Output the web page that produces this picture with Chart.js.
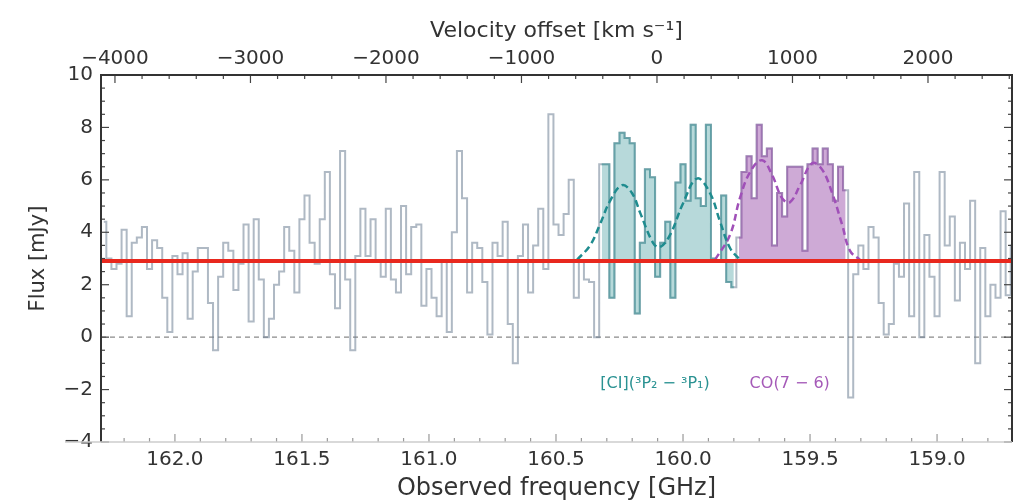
<!DOCTYPE html>
<html>
<head>
<meta charset="utf-8">
<script src="https://cdn.jsdelivr.net/npm/chart.js@4.4.1/dist/chart.umd.min.js"></script>
<style>
  html, body { margin: 0; padding: 0; background: #fff; }
  #wrap { width: 1015px; height: 503px; }
</style>
</head>
<body>
<div id="wrap"><canvas id="spec"></canvas></div>
<script>
// spectrum: channel grid (GHz) and flux per channel (mJy)
var chanStart = 162.28;
var chanWidth = 0.02;
var flux = [
  4.4, 3.0, 2.6, 2.8, 4.1, 0.8, 3.6, 3.8, 4.2, 2.6,
  3.7, 3.4, 1.5, 0.2, 3.1, 2.4, 3.2, 0.7, 2.5, 3.4,
  3.4, 1.3, -0.5, 2.3, 3.6, 3.3, 1.8, 2.8, 4.3, 0.6,
  4.5, 2.2, 0.0, 0.7, 2.0, 2.5, 4.2, 3.3, 1.7, 4.5,
  5.4, 3.6, 2.8, 4.5, 6.3, 2.4, 1.1, 7.1, 2.2, -0.5,
  3.1, 4.9, 3.1, 4.5, 2.9, 2.3, 4.9, 2.2, 1.7, 5.0,
  2.4, 4.2, 4.3, 1.2, 2.6, 1.5, 0.8, 2.9, 0.2, 4.0,
  7.1, 5.3, 1.7, 3.6, 3.4, 2.1, 0.1, 3.6, 3.1, 4.4,
  0.5, -1.0, 3.1, 4.3, 1.7, 3.5, 4.9, 2.6, 8.5, 4.3,
  3.9, 4.7, 6.0, 1.5, 2.9, 2.2, 2.1, 0.0, 6.6, 6.6,
  1.5, 7.4, 7.8, 7.6, 7.4, 0.9, 3.6, 6.4, 6.1, 2.3,
  3.6, 4.4, 1.5, 5.9, 6.6, 5.2, 8.1, 5.3, 5.0, 8.1,
  3.0, 2.9, 5.4, 2.1, 1.9, 3.8, 6.3, 6.9, 5.3, 8.1,
  6.9, 7.2, 3.5, 5.5, 4.6, 6.5, 6.5, 6.5, 3.3, 6.6,
  7.2, 6.6, 7.2, 6.6, 5.2, 6.5, 5.6, -2.3, 2.4, 3.5,
  2.6, 4.2, 3.8, 1.3, 0.1, 0.5, 2.8, 2.3, 5.1, 0.8,
  6.3, 0.0, 3.9, 2.3, 0.8, 6.3, 3.5, 4.6, 1.4, 3.6,
  2.6, 5.2, -1.0, 3.4, 0.8, 2.0, 1.5, 4.8, 1.6, 3.5
];

// continuum level
var continuum = 2.9;

// channel ranges that belong to each line
var ciRange = [98, 124];
var coRange = [125, 146];

// double gaussian fits, sampled (GHz, mJy)
var ciFitFreq = [160.417, 160.366, 160.327, 160.287, 160.240, 160.201, 160.169, 160.118,
                 160.091, 160.051, 160.000, 159.945, 159.894, 159.854, 159.815, 159.776];
var ciFitFlux = [2.95, 3.5, 4.3, 5.2, 5.8, 5.5, 4.75, 3.6, 3.43, 3.9, 5.1, 6.05, 5.5, 4.4, 3.4, 2.95];
var coFitFreq = [159.874, 159.815, 159.776, 159.736, 159.689, 159.650, 159.610, 159.579,
                 159.539, 159.492, 159.453, 159.413, 159.374, 159.343, 159.303];
var coFitFlux = [2.95, 3.9, 5.3, 6.3, 6.75, 6.2, 5.3, 5.15, 5.8, 6.63, 6.4, 5.5, 4.3, 3.3, 2.95];

// axis ranges and ticks
var freqMin = 158.705, freqMax = 162.291;
var velLeft = -4103, velRight = 2620;
var freqTicks = [162.0, 161.5, 161.0, 160.5, 160.0, 159.5, 159.0];
var velTicks = [-4000, -3000, -2000, -1000, 0, 1000, 2000];
var fluxTicks = [-4, -2, 0, 2, 4, 6, 8, 10];

var freqs = flux.map(function (f, i) { return chanStart - i * chanWidth; });

function points(xs, ys) {
    return xs.map(function (x, i) { return { x: x, y: ys[i] }; });
}

function linePoints(range) {
    var out = [];
    for (var i = range[0]; i <= range[1]; i++) out.push({ x: freqs[i], y: flux[i] });
    return out;
}

function minus(v) {
    return String(v).replace('-', '\u2212');
}

var textColor = '#333';
var fontFamily = '"DejaVu Sans", sans-serif';

// spines, inward ticks and line labels
var frameTicks = {
    id: 'frameTicks',
    afterDatasetsDraw: function (chart) {
        var ctx = chart.ctx, a = chart.chartArea;
        var xs = chart.scales.x, x2 = chart.scales.x2, ys = chart.scales.y;
        ctx.save();

        function tick(x, y, dx, dy) {
            ctx.beginPath();
            ctx.moveTo(x, y);
            ctx.lineTo(x + dx, y + dy);
            ctx.stroke();
        }

        ctx.strokeStyle = '#444';
        ctx.lineWidth = 1.2;
        for (var v = -4; v <= 10.001; v += 0.5) {
            var y = ys.getPixelForValue(v);
            var len = Math.abs(v % 2) < 1e-6 ? 8 : 4;
            tick(a.left, y, len, 0);
            tick(a.right, y, -len, 0);
        }
        for (var w = -4000; w <= 2600; w += 200) {
            var px = x2.getPixelForValue(w);
            tick(px, a.top, 0, w % 1000 === 0 ? 8 : 4);
        }

        ctx.strokeStyle = '#999';
        for (var k = 1588; k <= 1622; k++) {
            var f = k / 10;
            var bx = xs.getPixelForValue(f);
            tick(bx, a.bottom, 0, k % 5 === 0 ? -8 : -4);
        }

        // spines
        ctx.lineWidth = 2;
        ctx.strokeStyle = '#333';
        ctx.beginPath();
        ctx.moveTo(a.left, a.bottom);
        ctx.lineTo(a.left, a.top);
        ctx.lineTo(a.right, a.top);
        ctx.lineTo(a.right, a.bottom);
        ctx.stroke();
        ctx.strokeStyle = '#ccc';
        ctx.lineWidth = 1.5;
        ctx.beginPath();
        ctx.moveTo(65, a.bottom);
        ctx.lineTo(a.right, a.bottom);
        ctx.stroke();

        // line identifications
        ctx.font = '16px ' + fontFamily;
        ctx.textAlign = 'center';
        ctx.textBaseline = 'middle';
        ctx.fillStyle = '#2a9292';
        ctx.fillText('[CI](\u00b3P\u2082 \u2212 \u00b3P\u2081)', xs.getPixelForValue(160.11), ys.getPixelForValue(-1.8));
        ctx.fillStyle = '#a55ab8';
        ctx.fillText('CO(7 \u2212 6)', xs.getPixelForValue(159.58), ys.getPixelForValue(-1.8));
        ctx.restore();
    }
};

var specChart = new Chart(document.getElementById('spec'), {
    type: 'line',
    data: {
        datasets: [{
            data: [{ x: freqMax, y: continuum }, { x: freqMin, y: continuum }],
            borderColor: '#e8281e',
            borderWidth: 4,
            pointRadius: 0,
            order: 0
        }, {
            data: points(ciFitFreq, ciFitFlux),
            borderColor: '#1f8c8f',
            borderWidth: 2.5,
            borderDash: [7, 4],
            tension: 0.4,
            pointRadius: 0,
            order: 1
        }, {
            data: points(coFitFreq, coFitFlux),
            borderColor: '#a050b8',
            borderWidth: 2.5,
            borderDash: [7, 4],
            tension: 0.4,
            pointRadius: 0,
            order: 1
        }, {
            data: linePoints(ciRange),
            stepped: 'middle',
            borderColor: 'rgba(60,145,150,0.55)',
            backgroundColor: 'rgba(95,170,172,0.45)',
            borderWidth: 2,
            fill: { value: continuum },
            pointRadius: 0,
            order: 2
        }, {
            data: linePoints(coRange),
            stepped: 'middle',
            borderColor: 'rgba(150,90,170,0.55)',
            backgroundColor: 'rgba(165,100,180,0.55)',
            borderWidth: 2,
            fill: { value: continuum },
            pointRadius: 0,
            order: 2
        }, {
            data: points(freqs, flux),
            stepped: 'middle',
            borderColor: 'rgba(110,128,148,0.55)',
            borderWidth: 2,
            pointRadius: 0,
            order: 3
        }, {
            data: [{ x: freqMax, y: 0 }, { x: freqMin, y: 0 }],
            borderColor: '#8a8a8a',
            borderWidth: 1.3,
            borderDash: [5, 4],
            pointRadius: 0,
            order: 4
        }]
    },
    options: {
        responsive: true,
        maintainAspectRatio: false,
        animation: false,
        layout: { padding: { right: 3 } },
        plugins: {
            legend: { display: false },
            tooltip: { enabled: false }
        },
        scales: {
            x: {
                type: 'linear',
                position: 'bottom',
                reverse: true,
                min: freqMin,
                max: freqMax,
                grid: { display: false, drawTicks: false },
                border: { display: false },
                afterBuildTicks: function (s) { s.ticks = freqTicks.map(function (v) { return { value: v }; }); },
                afterFit: function (s) { s.height = 61; },
                ticks: {
                    color: textColor,
                    font: { family: fontFamily, size: 20 },
                    padding: 6,
                    maxRotation: 0,
                    callback: function (v) { return v.toFixed(1); }
                },
                title: {
                    display: true,
                    text: 'Observed frequency [GHz]',
                    color: textColor,
                    font: { family: fontFamily, size: 24 },
                    padding: { top: 0, bottom: 0 }
                }
            },
            x2: {
                type: 'linear',
                position: 'top',
                min: velLeft,
                max: velRight,
                grid: { display: false, drawTicks: false },
                border: { display: false },
                afterBuildTicks: function (s) { s.ticks = velTicks.map(function (v) { return { value: v }; }); },
                afterFit: function (s) { s.height = 75; },
                ticks: {
                    color: textColor,
                    font: { family: fontFamily, size: 20 },
                    padding: 4,
                    maxRotation: 0,
                    callback: function (v) { return minus(v); }
                },
                title: {
                    display: true,
                    text: 'Velocity offset [km s\u207b\u00b9]',
                    color: textColor,
                    font: { family: fontFamily, size: 22 },
                    padding: { top: 18, bottom: 0 }
                }
            },
            y: {
                min: -4,
                max: 10,
                grid: { display: false, drawTicks: false },
                border: { display: false },
                afterBuildTicks: function (s) { s.ticks = fluxTicks.map(function (v) { return { value: v }; }); },
                afterFit: function (s) { s.width = 101; },
                ticks: {
                    color: textColor,
                    font: { family: fontFamily, size: 20 },
                    padding: 8,
                    callback: function (v) { return minus(v); }
                },
                title: {
                    display: true,
                    text: 'Flux [mJy]',
                    color: textColor,
                    font: { family: fontFamily, size: 21 },
                    padding: { top: 26, bottom: 0 }
                }
            }
        }
    },
    plugins: [frameTicks]
});
</script>
</body>
</html>
